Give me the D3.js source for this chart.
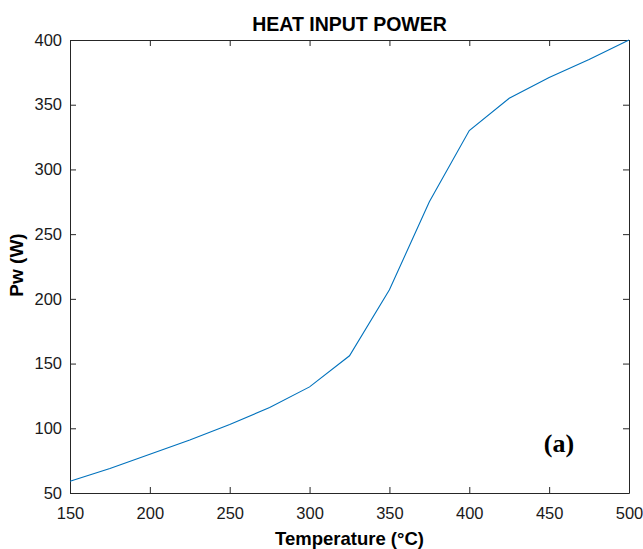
<!DOCTYPE html>
<html><head><meta charset="utf-8">
<script src="https://cdn.jsdelivr.net/npm/d3@7/dist/d3.min.js"></script>
<style>body{margin:0;background:#fff}svg{display:block}</style>
</head><body>
<svg id="c" width="643" height="549"></svg>
<script>
const temperature = [150,175,200,225,250,275,300,325,350,375,400,425,450,475,500];
const power = [59,69,80,91,103,116,132,156,207,275,330,355,371,385,400];
const xTicks = [150,200,250,300,350,400,450,500];
const yTicks = [50,100,150,200,250,300,350,400];

const W=643,H=549, m={l:70,r:14,t:40,b:56};
const svg=d3.select('#c');
const x=d3.scaleLinear().domain([150,500]).range([m.l,W-m.r]);
const y=d3.scaleLinear().domain([50,400]).range([H-m.b,m.t]);
const axc='#262626', font='Liberation Sans, Arial, sans-serif';

const g=svg.append('g');
const ax=(gen,tr)=>{const a=g.append('g').attr('transform',tr).call(gen);a.select('.domain').attr('stroke',axc);a.selectAll('line').attr('stroke',axc);return a;};
const xb=ax(d3.axisBottom(x).tickValues(xTicks).tickSizeInner(-6).tickSizeOuter(0).tickPadding(14),`translate(0,${y(50)})`);
const xt=ax(d3.axisTop(x).tickValues(xTicks).tickSizeInner(-6).tickSizeOuter(0).tickFormat(''),`translate(0,${y(400)})`);
const yl=ax(d3.axisLeft(y).tickValues(yTicks).tickSizeInner(-6).tickSizeOuter(0).tickPadding(8),`translate(${x(150)},0)`);
const yr=ax(d3.axisRight(y).tickValues(yTicks).tickSizeInner(-6).tickSizeOuter(0).tickFormat(''),`translate(${x(500)},0)`);
[xb,yl].forEach(a=>a.selectAll('text').attr('font-family',font).attr('font-size',16.5).attr('fill','#1a1a1a'));

g.append('path').datum(temperature.map((t,i)=>[t,power[i]]))
 .attr('fill','none').attr('stroke','#0072BD').attr('stroke-width',1.1)
 .attr('d',d3.line().x(d=>x(d[0])).y(d=>y(d[1])));

svg.append('text').attr('x',(x(150)+x(500))/2).attr('y',31).attr('text-anchor','middle')
 .attr('font-family',font).attr('font-weight','bold').attr('font-size',19.5).text('HEAT INPUT POWER');
svg.append('text').attr('x',(x(150)+x(500))/2).attr('y',545).attr('text-anchor','middle')
 .attr('font-family',font).attr('font-weight','bold').attr('font-size',18.5).text('Temperature (°C)');
svg.append('text').attr('transform',`translate(23,265) rotate(-90)`).attr('text-anchor','middle')
 .attr('font-family',font).attr('font-weight','bold').attr('font-size',19).text('Pw (W)');
svg.append('text').attr('x',559).attr('y',452).attr('text-anchor','middle')
 .attr('font-family','Liberation Serif, Times New Roman, serif').attr('font-weight','bold').attr('font-size',26).text('(a)');
</script>
</body></html>
